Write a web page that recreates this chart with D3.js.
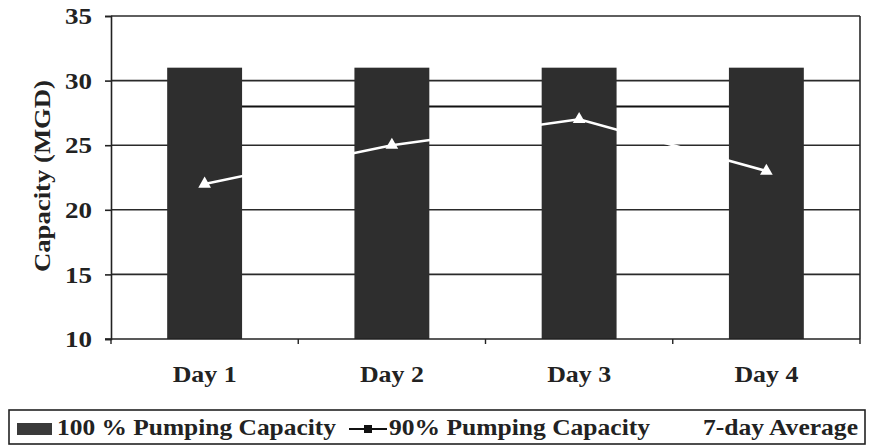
<!DOCTYPE html>
<html><head><meta charset="utf-8">
<script src="https://cdn.jsdelivr.net/npm/d3@7"></script>
<style>
html,body{margin:0;padding:0;background:#fff;}
svg text{font-family:"Liberation Serif";font-weight:bold;fill:#222;}
</style></head>
<body><svg id="chart" width="869" height="447"></svg>
<script>
const days = ["Day 1","Day 2","Day 3","Day 4"];
const pump100 = [31, 31, 31, 31];
const pump90 = [28, 28, 28, 28];
const avg7 = [22, 25, 27, 23];
const yTicks = [10, 15, 20, 25, 30, 35];
const yTitle = "Capacity (MGD)";
const legendLabels = ["100 % Pumping Capacity", "90% Pumping Capacity", "7-day Average"];

const svg = d3.select("#chart");
const L = 111, R = 860, T = 16, B = 339;
const x = d3.scaleBand().domain(days).range([L, R]).paddingInner(0.6).paddingOuter(0.3);
const y = d3.scaleLinear().domain([10, 35]).range([B, T]);
const cx = d => x(d) + x.bandwidth() / 2;

// gridlines
svg.append("g").selectAll("line").data(yTicks.filter(t => t > 10)).join("line")
  .attr("x1", L).attr("x2", R).attr("y1", d => y(d)).attr("y2", d => y(d))
  .attr("stroke", "#2a2a2a").attr("stroke-width", 1.6);
svg.append("line").attr("x1", R).attr("x2", R).attr("y1", T).attr("y2", B)
  .attr("stroke", "#2a2a2a").attr("stroke-width", 1.6);

// 90% line (behind the bars)
const line = d3.line().x((d, i) => cx(days[i])).y(d => y(d));
svg.append("path").datum(pump90).attr("d", line)
  .attr("fill", "none").attr("stroke", "#111").attr("stroke-width", 2);
svg.append("g").selectAll("rect").data(pump90).join("rect")
  .attr("x", (d, i) => cx(days[i]) - 4).attr("y", d => y(d) - 4)
  .attr("width", 8).attr("height", 8).attr("fill", "#111");

// bars
svg.append("g").selectAll("rect").data(days).join("rect")
  .attr("x", d => x(d)).attr("width", x.bandwidth())
  .attr("y", (d, i) => y(pump100[i])).attr("height", (d, i) => y(10) - y(pump100[i]))
  .attr("fill", "#2e2e2e");

// 7-day average
svg.append("path").datum(avg7).attr("d", line)
  .attr("fill", "none").attr("stroke", "#fff").attr("stroke-width", 2.5);
const tri = d3.symbol().type(d3.symbolTriangle).size(70);
svg.append("g").selectAll("path").data(avg7).join("path")
  .attr("d", tri).attr("transform", (d, i) => `translate(${cx(days[i])},${y(d)})`)
  .attr("fill", "#fff");

// y axis
const yAxis = svg.append("g").attr("transform", `translate(${L},0)`)
  .call(d3.axisLeft(y).tickValues(yTicks).tickSize(6).tickPadding(13));
yAxis.attr("font-family", null).attr("font-size", null);
yAxis.select(".domain").attr("stroke", "#222").attr("stroke-width", 1.6);
yAxis.selectAll(".tick line").attr("stroke", "#222").attr("stroke-width", 1.6);
yAxis.selectAll(".tick text").attr("font-size", 24)
  .attr("fill", "#222").attr("textLength", 27).attr("lengthAdjust", "spacingAndGlyphs");

// x axis
const xAxis = svg.append("g").attr("transform", `translate(0,${B})`);
xAxis.append("line").attr("x1", L - 6).attr("x2", R).attr("stroke", "#222").attr("stroke-width", 1.6);
const bounds = days.map(d => x(d) - x.step() * x.paddingInner() / 2).concat([R]);
xAxis.selectAll("line.tk").data(bounds).join("line").attr("class", "tk")
  .attr("x1", d => d).attr("x2", d => d).attr("y1", 0).attr("y2", 5)
  .attr("stroke", "#222").attr("stroke-width", 1.4);
xAxis.selectAll("text").data(days).join("text")
  .attr("x", d => cx(d)).attr("y", 43).attr("text-anchor", "middle")
  .attr("font-size", 23).attr("textLength", 64).attr("lengthAdjust", "spacingAndGlyphs")
  .text(d => d);

// y title
svg.append("text").attr("transform", "translate(50,176) rotate(-90)")
  .attr("text-anchor", "middle").attr("font-size", 23)
  .attr("textLength", 192).attr("lengthAdjust", "spacingAndGlyphs").text(yTitle);

// legend
const lg = svg.append("g");
lg.append("rect").attr("x", 9).attr("y", 410).attr("width", 856).attr("height", 34)
  .attr("fill", "#fff").attr("stroke", "#222").attr("stroke-width", 1.6);
lg.append("rect").attr("x", 17).attr("y", 423).attr("width", 35).attr("height", 12).attr("fill", "#3a3a3a");
lg.append("text").attr("x", 57).attr("y", 435).attr("font-size", 23)
  .attr("textLength", 279).attr("lengthAdjust", "spacingAndGlyphs").text(legendLabels[0]);
lg.append("line").attr("x1", 349).attr("x2", 387).attr("y1", 429).attr("y2", 429)
  .attr("stroke", "#111").attr("stroke-width", 2);
lg.append("rect").attr("x", 364).attr("y", 425).attr("width", 8).attr("height", 8).attr("fill", "#111");
lg.append("text").attr("x", 389).attr("y", 435).attr("font-size", 23)
  .attr("textLength", 261).attr("lengthAdjust", "spacingAndGlyphs").text(legendLabels[1]);
lg.append("line").attr("x1", 660).attr("x2", 698).attr("y1", 429).attr("y2", 429)
  .attr("stroke", "#fff").attr("stroke-width", 2.5);
lg.append("path").attr("d", tri).attr("transform", "translate(679,429)").attr("fill", "#fff");
lg.append("text").attr("x", 703).attr("y", 435).attr("font-size", 23)
  .attr("textLength", 155).attr("lengthAdjust", "spacingAndGlyphs").text(legendLabels[2]);
</script></body></html>
